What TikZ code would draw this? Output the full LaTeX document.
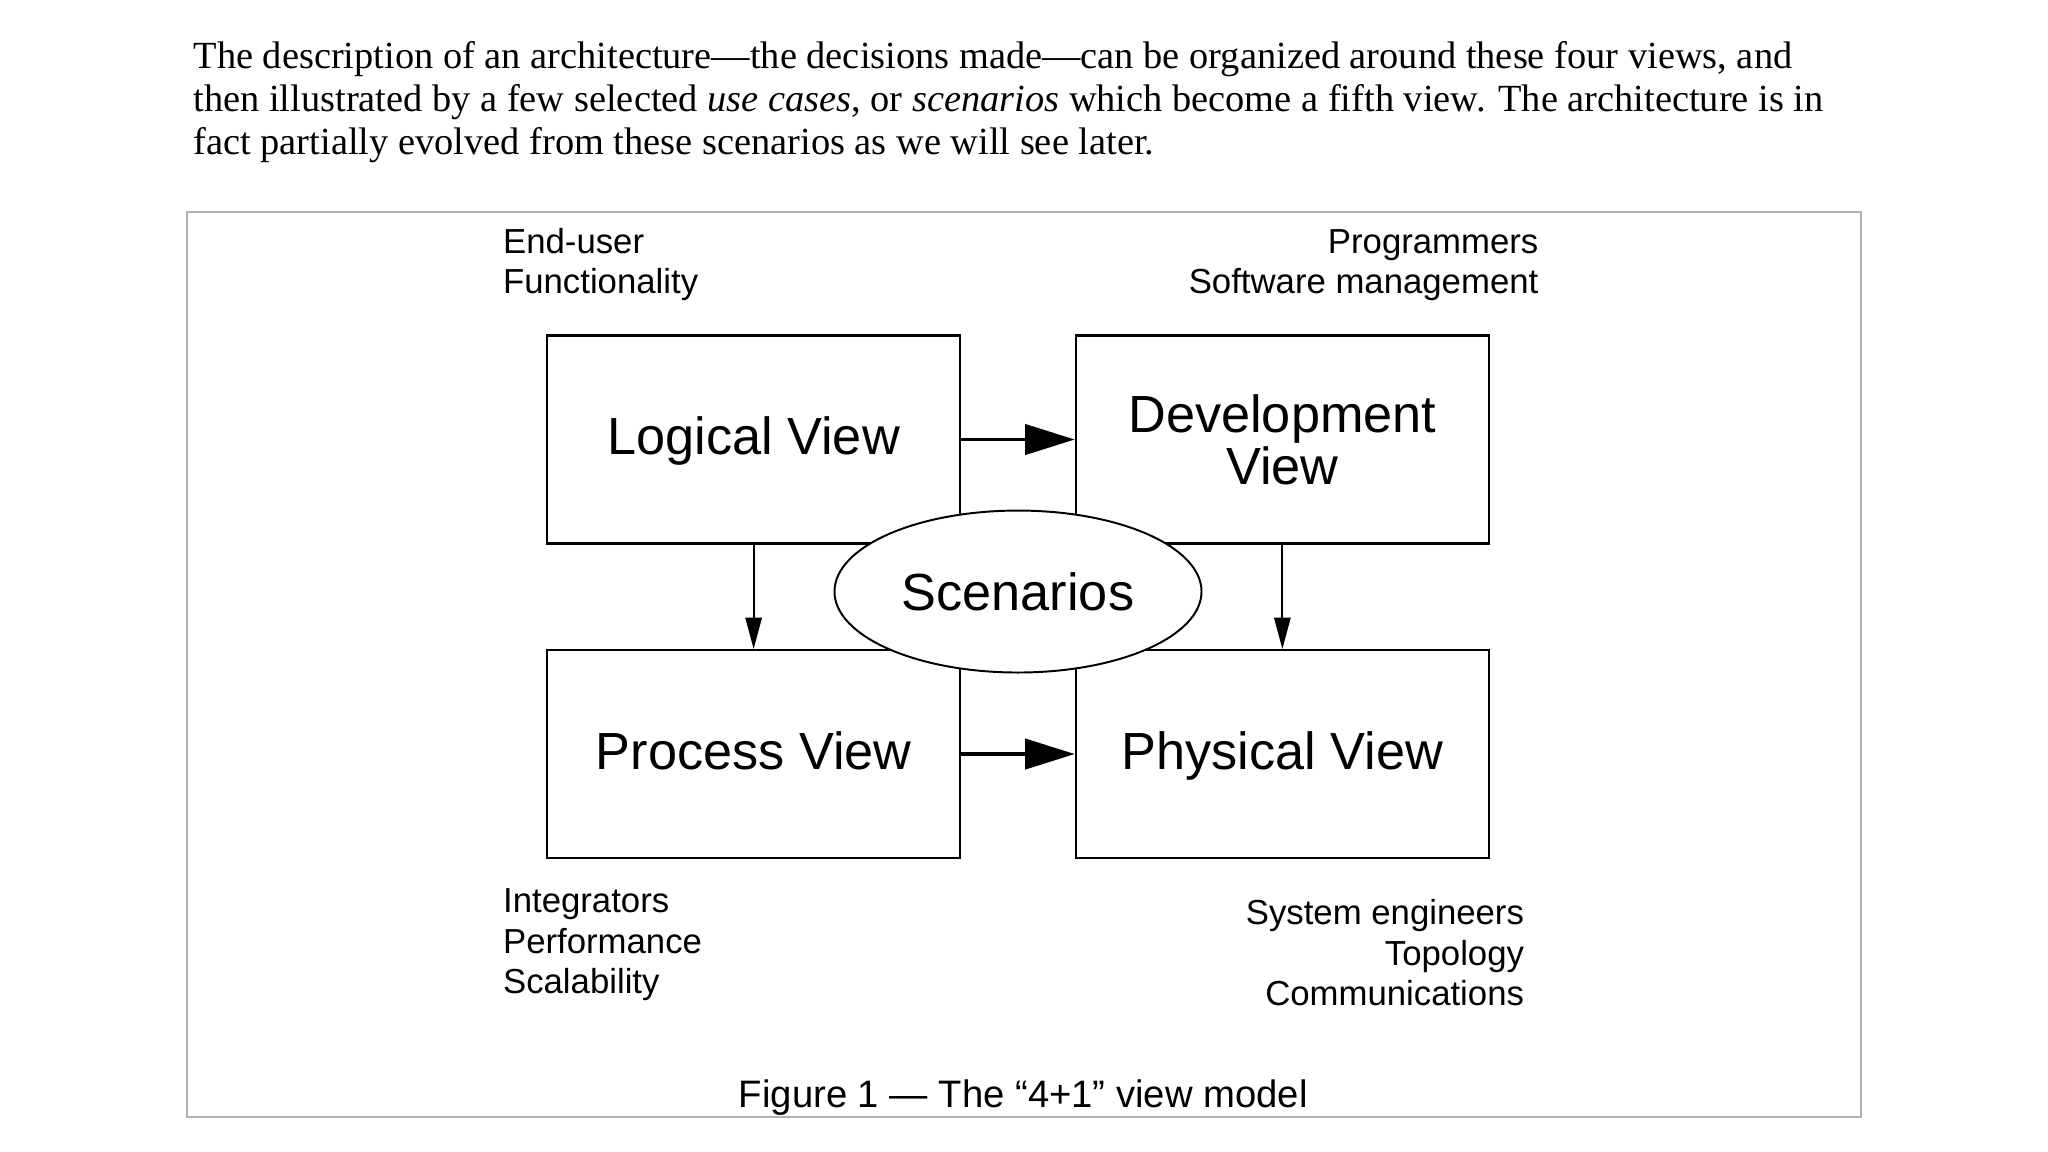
\documentclass[tikz,border=0pt]{standalone}
\usepackage{fontspec}
\setmainfont{Liberation Serif}
\setsansfont{Liberation Sans}
\usepackage{tikz}
\usetikzlibrary{arrows.meta, calc, positioning, shapes.geometric}

\begin{document}
\begin{tikzpicture}[x=1pt, y=-1pt,
  view/.style={draw, line width=1.8pt, minimum width=316pt, minimum height=159pt, align=center, font=\sffamily\fontsize{40}{40}\selectfont},
  oneline/.style={text height=28.5pt, text depth=5.5pt},
  scen/.style={draw, ellipse, fill=white, line width=1.5pt, minimum width=281pt, minimum height=124pt, inner sep=0pt, font=\sffamily\fontsize{40}{40}\selectfont},
  note/.style={inner sep=0pt, font=\sffamily\fontsize{26.6}{31}\selectfont},
  bigarrow/.style={line width=3pt, -{Triangle[length=38pt,width=23pt]}},
  thinarrow/.style={line width=1.5pt, -{Triangle[length=24pt,width=12.5pt]}}]
\useasboundingbox (0,0) rectangle (1568,882);

% Text above the figure
\node (intro) [anchor=base west, inner sep=0pt, align=left, font=\fontsize{29.4}{33}\selectfont] at (148,118.5)
  {The description of an architecture—the decisions made—can be organized around these four views, and\\
   then illustrated by a few selected \textit{use cases}, or \textit{scenarios} which become a fifth view. The architecture is in\\
   fact partially evolved from these scenarios as we will see later.};

% Figure frame
\draw[gray!60, line width=1.5pt] (143,162) rectangle (1425,855);

% Base nodes
\node (logical) [view, oneline] at (577,336.5) {Logical View};
\node (devel) [view, right=87pt of logical] {Development\\View};
\node (process) [view, oneline, below=80pt of logical] {Process View};
\node (physical) [view, oneline, right=87pt of process] {Physical View};

% Stakeholders and concerns
\node (enduser) [note, anchor=base west, align=left] at (385,225) {End-user\\Functionality};
\node (progs) [note, anchor=base east, align=right] at (1178,225) {Programmers\\Software management};
\node (integ) [note, anchor=base west, align=left] at (385,761) {Integrators\\Performance\\Scalability};
\node (syseng) [note, anchor=base east, align=right] at (1167,770) {System engineers\\Topology\\Communications};

% Arrows
\draw[bigarrow] (logical) -- (devel);
\draw[bigarrow] (process) -- (physical);
\draw[thinarrow] (logical) -- (process);
\draw[thinarrow] (devel) -- (physical);

% Scenarios on top
\node (scenarios) [scen, yshift=4pt] at ($(logical)!0.5!(physical)$) {Scenarios};

\node (caption) [anchor=base, inner sep=0pt, font=\sffamily\fontsize{29.3}{33}\selectfont] at (783.5,848) {Figure 1 — The “4+1” view model};
\end{tikzpicture}
\end{document}
